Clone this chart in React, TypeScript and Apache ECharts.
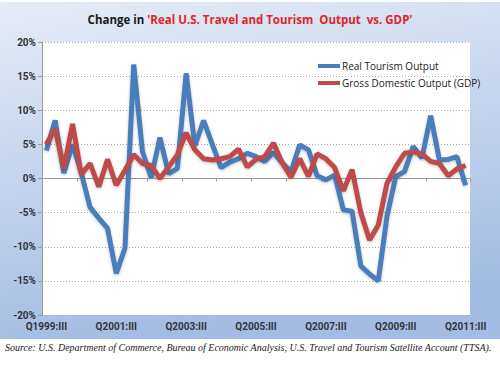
import React, { useEffect, useRef } from "react";
import * as echarts from "echarts";

const categories = [
  "Q1999:III", "Q1999:IV", "Q2000:I", "Q2000:II", "Q2000:III", "Q2000:IV", "Q2001:I", "Q2001:II",
  "Q2001:III", "Q2001:IV", "Q2002:I", "Q2002:II", "Q2002:III", "Q2002:IV", "Q2003:I", "Q2003:II",
  "Q2003:III", "Q2003:IV", "Q2004:I", "Q2004:II", "Q2004:III", "Q2004:IV", "Q2005:I", "Q2005:II",
  "Q2005:III", "Q2005:IV", "Q2006:I", "Q2006:II", "Q2006:III", "Q2006:IV", "Q2007:I", "Q2007:II",
  "Q2007:III", "Q2007:IV", "Q2008:I", "Q2008:II", "Q2008:III", "Q2008:IV", "Q2009:I", "Q2009:II",
  "Q2009:III", "Q2009:IV", "Q2010:I", "Q2010:II", "Q2010:III", "Q2010:IV", "Q2011:I", "Q2011:II",
  "Q2011:III",
];

const tourismOutput = [
  4.1, 8.5, 0.8, 5.0, 0.8, -4.2, -5.8, -7.3,
  -13.9, -10.2, 16.7, 4.0, 0.1, 6.0, 0.7, 1.5,
  15.4, 4.8, 8.5, 5.0, 1.6, 2.4, 2.9, 3.7,
  3.2, 2.5, 3.8, 2.3, 1.0, 4.9, 4.2, 0.4,
  -0.2, 0.5, -4.6, -4.8, -12.8, -14.0, -15.0, -5.5,
  0.3, 1.0, 4.7, 3.0, 9.2, 2.7, 2.8, 3.2,
  -1.0,
];

const gdpOutput = [
  5.0, 7.3, 1.5, 8.0, 0.6, 2.2, -1.2, 2.8,
  -1.0, 1.2, 3.5, 2.2, 1.9, 0.0, 1.7, 3.5,
  6.7, 4.2, 2.9, 2.7, 2.9, 3.2, 4.3, 1.7,
  2.8, 3.2, 5.2, 2.3, 0.2, 2.9, 0.3, 3.6,
  2.9, 1.6, -1.8, 1.3, -5.0, -9.0, -6.8, -0.7,
  1.7, 3.7, 3.9, 3.6, 2.5, 2.2, 0.4, 1.4,
  1.9,
];

const seriesNames = ["Real Tourism Output", "Gross Domestic Output (GDP)"];
const titleLead = "Change in ";
const titleMain = "'Real U.S. Travel and Tourism  Output  vs. GDP'";
const sourceText =
  "Source: U.S. Department of Commerce, Bureau of Economic Analysis, U.S. Travel and Tourism Satellite Account (TTSA).";

export default function App() {
  const ref = useRef<HTMLDivElement>(null);

  useEffect(() => {
    if (!ref.current) return;
    const chart = echarts.init(ref.current, null, { renderer: "svg" });
    const titleFont = "'Open Sans', 'Noto Sans', sans-serif";
    const axisFont = "Roboto, 'Noto Sans', sans-serif";
    chart.setOption({
      animation: false,
      backgroundColor: "#ffffff",
      graphic: [
        {
          type: "rect",
          z: -10,
          silent: true,
          shape: { x: 0, y: 2, width: 500, height: 337 },
          style: {
            fill: new echarts.graphic.LinearGradient(0, 0, 0.25, 1, [
              { offset: 0, color: "#e6ecf6" },
              { offset: 1, color: "#a4bce3" },
            ]),
          },
        },
        {
          type: "text",
          left: 5,
          top: 342,
          silent: true,
          style: {
            text: sourceText,
            fill: "#222222",
            font: "italic 10px 'Liberation Serif', serif",
          },
        },
      ],
      title: {
        text: `{a|${titleLead}}{b|${titleMain}}`,
        left: "center",
        top: 8,
        textStyle: {
          rich: {
            a: { fontFamily: titleFont, fontWeight: "bold", fontSize: 11.5, color: "#1a1a1a" },
            b: { fontFamily: titleFont, fontWeight: "bold", fontSize: 11.5, color: "#e0242c" },
          },
        },
      },
      legend: {
        orient: "vertical",
        left: 313,
        top: 56,
        icon: "rect",
        itemWidth: 22,
        itemHeight: 4,
        itemGap: 7,
        textStyle: { fontFamily: titleFont, fontSize: 10, color: "#222222", padding: [0, 0, 0, -3] },
        data: seriesNames,
      },
      grid: {
        left: 42,
        right: 30,
        top: 42,
        bottom: 50,
        show: true,
        backgroundColor: "#ffffff",
        borderWidth: 0,
      },
      xAxis: [
        {
          type: "category",
          data: categories,
          boundaryGap: true,
          position: "bottom",
          axisLine: { show: false, onZero: false },
          axisTick: { show: false },
          axisLabel: {
            interval: 7,
            fontFamily: axisFont,
            fontSize: 10,
            fontWeight: "bold",
            color: "#333333",
            margin: 6,
          },
          splitLine: { show: false },
        },
        {
          type: "category",
          data: categories,
          boundaryGap: true,
          position: "bottom",
          axisLine: { show: true, onZero: true, lineStyle: { color: "#9a9a9a", width: 1 } },
          axisTick: { show: true, interval: 3, length: 3, lineStyle: { color: "#9a9a9a" } },
          axisLabel: { show: false },
          splitLine: { show: false },
        },
      ],
      yAxis: {
        type: "value",
        min: -20,
        max: 20,
        interval: 5,
        axisLine: { show: true, lineStyle: { color: "#9a9a9a" } },
        axisTick: { show: true, length: 4, lineStyle: { color: "#9a9a9a" } },
        axisLabel: {
          formatter: "{value}%",
          fontFamily: axisFont,
          fontSize: 10,
          fontWeight: "bold",
          color: "#333333",
          margin: 6,
        },
        splitLine: { show: true, lineStyle: { color: "#a8a8a8", type: [1, 2], width: 1 } },
      },
      series: [
        {
          name: seriesNames[0],
          type: "line",
          xAxisIndex: 0,
          data: tourismOutput,
          symbol: "none",
          color: "#4a7ebb",
          lineStyle: { width: 5, color: "#4a7ebb", shadowColor: "rgba(0,0,0,0.25)", shadowBlur: 3, shadowOffsetY: 1 },
          z: 2,
        },
        {
          name: seriesNames[1],
          type: "line",
          xAxisIndex: 0,
          data: gdpOutput,
          symbol: "none",
          color: "#be4b48",
          lineStyle: { width: 5, color: "#be4b48", shadowColor: "rgba(0,0,0,0.25)", shadowBlur: 3, shadowOffsetY: 1 },
          z: 3,
        },
      ],
    });
    return () => chart.dispose();
  }, []);

  return (
    <div
      ref={ref}
      style={{ position: "fixed", left: 0, top: 0, width: 500, height: 365 }}
    />
  );
}
